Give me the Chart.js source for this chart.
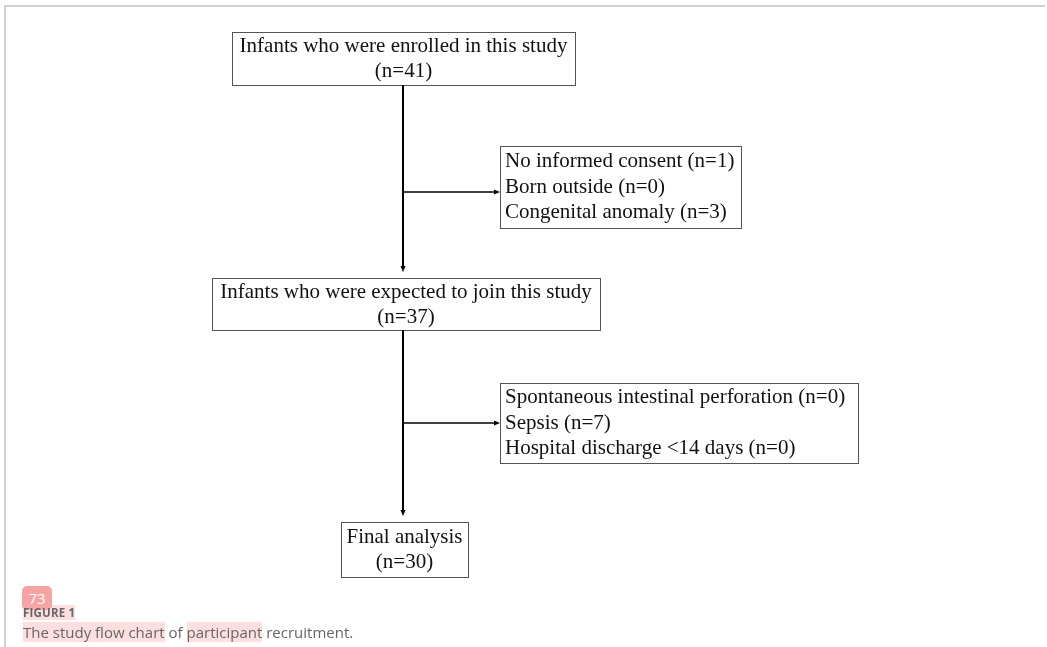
<!DOCTYPE html>
<html>
<head>
<meta charset="utf-8">
<script src="https://cdn.jsdelivr.net/npm/chart.js@4/dist/chart.umd.min.js"></script>
<style>
	html,body{margin:0;padding:0;background:#fff;}
	#wrap{position:absolute;left:0;top:0;width:1047px;height:647px;}
	#frame{position:absolute;left:4px;top:5px;right:2px;bottom:0;border-top:2px solid #d2d2d2;border-left:2px solid #d2d2d2;}
	#cv{position:absolute;left:0;top:0;}
	.badge{position:absolute;left:22px;top:586px;width:30px;height:24px;border-radius:5px;background:#f5a3a3;color:#fff;font:15px 'Open Sans',sans-serif;text-align:center;line-height:25px;}
	.fig{position:absolute;left:23px;top:605px;font:bold 11.5px 'Open Sans',sans-serif;color:#666;letter-spacing:.2px;}
	.cap{position:absolute;left:23px;top:622px;font:15px 'Open Sans',sans-serif;color:#666;white-space:nowrap;}
	.hl{background:rgba(250,170,170,.38);}
</style>
</head>
<body>
<div id="wrap">
	<div id="frame"></div>
	<canvas id="cv" width="1047" height="647"></canvas>
	<div class="badge">73</div>
	<div class="fig"><span class="hl">FIGURE 1</span></div>
	<div class="cap"><span class="hl">The study flow chart</span> of <span class="hl">participant</span> recruitment.</div>
</div>
<script>
// dados do fluxograma
const mainSteps = ['Infants who were enrolled in this study', 'Infants who were expected to join this study', 'Final analysis'];
const mainCounts = [41, 37, 30];
const exclusion1 = ['No informed consent', 'Born outside', 'Congenital anomaly'];
const exclusion1Counts = [1, 0, 3];
const exclusion2 = ['Spontaneous intestinal perforation', 'Sepsis', 'Hospital discharge <14 days'];
const exclusion2Counts = [0, 7, 0];

// layout (unidades da escala = px)
const mainBoxes = [
	{ x0:232, x1:575, y0:32, y1:85 },
	{ x0:212, x1:600, y0:278, y1:330 },
	{ x0:341, x1:468, y0:522, y1:577 }
];
const sideBoxes = [
	{ x0:500, x1:741, y0:146, y1:228, arrowY:192 },
	{ x0:500, x1:858, y0:383, y1:463, arrowY:423 }
];
const trunkX = 403;
const font = '21px "Liberation Serif", "Times New Roman", serif';

const flowPlugin = {
	id: 'flow',
	afterDraw(chart){
		const {ctx, scales:{x, y}} = chart;
		const px = v => x.getPixelForValue(v), py = v => y.getPixelForValue(v);
		ctx.save();
		ctx.font = font;
		ctx.fillStyle = '#111';
		ctx.textBaseline = 'middle';

		function box(b){
			ctx.strokeStyle = '#555'; ctx.lineWidth = 1;
			ctx.strokeRect(Math.round(px(b.x0))+.5, Math.round(py(b.y0))+.5, px(b.x1)-px(b.x0), py(b.y1)-py(b.y0));
		}
		function arrow(x0, y0, x1, y1, w){
			ctx.strokeStyle = '#000'; ctx.lineWidth = w;
			const ang = Math.atan2(py(y1)-py(y0), px(x1)-px(x0));
			const L = 6;
			ctx.beginPath(); ctx.moveTo(px(x0), py(y0));
			ctx.lineTo(px(x1)-Math.cos(ang)*L*.6, py(y1)-Math.sin(ang)*L*.6); ctx.stroke();
			ctx.fillStyle = '#000';
			ctx.beginPath();
			ctx.moveTo(px(x1), py(y1));
			ctx.lineTo(px(x1)-Math.cos(ang)*L-Math.sin(ang)*2.5, py(y1)-Math.sin(ang)*L+Math.cos(ang)*2.5);
			ctx.lineTo(px(x1)-Math.cos(ang)*L+Math.sin(ang)*2.5, py(y1)-Math.sin(ang)*L-Math.cos(ang)*2.5);
			ctx.closePath(); ctx.fill();
		}

		// caixas principais
		mainBoxes.forEach((b,i)=>{
			box(b);
			ctx.fillStyle = '#111'; ctx.textAlign = 'center';
			const cx = (px(b.x0)+px(b.x1))/2, cy = (py(b.y0)+py(b.y1))/2;
			ctx.fillText(mainSteps[i], cx, cy-12);
			ctx.fillText('(n='+mainCounts[i]+')', cx, cy+13);
		});

		// caixas de exclusão
		[[exclusion1, exclusion1Counts],[exclusion2, exclusion2Counts]].forEach(([labels, counts], k)=>{
			const b = sideBoxes[k];
			box(b);
			ctx.fillStyle = '#111'; ctx.textAlign = 'left';
			const cy = (py(b.y0)+py(b.y1))/2;
			labels.forEach((l,j)=> ctx.fillText(l+' (n='+counts[j]+')', px(b.x0)+5, cy+(j-1)*25.5));
		});

		// conectores
		arrow(trunkX, mainBoxes[0].y1, trunkX, mainBoxes[1].y0-6, 2);
		arrow(trunkX, mainBoxes[1].y1, trunkX, mainBoxes[2].y0-6, 2);
		sideBoxes.forEach(b=> arrow(trunkX, b.arrowY, b.x0, b.arrowY, 1.6));
		ctx.restore();
	}
};

new Chart(document.getElementById('cv').getContext('2d'), {
	type: 'scatter',
	data: { datasets: [] },
	options: {
		responsive: false, animation: false,
		layout: { padding: 0 },
		plugins: { legend: { display:false }, tooltip: { enabled:false } },
		scales: {
			x: { type:'linear', min:0, max:1047, display:false },
			y: { type:'linear', min:0, max:647, reverse:true, display:false }
		}
	},
	plugins: [flowPlugin]
});
</script>
</body>
</html>
